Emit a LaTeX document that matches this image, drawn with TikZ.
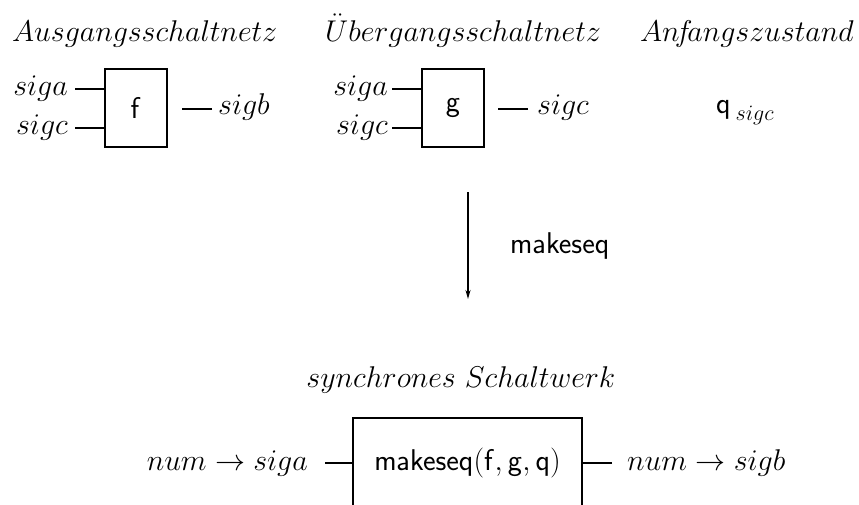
\RequirePackage{fix-cm}
\documentclass[tikz,border=0pt]{standalone}
\usetikzlibrary{arrows.meta}

\begin{document}
\begin{tikzpicture}[x=1pt,y=-1pt,
  every node/.style={font=\fontsize{30}{36}\selectfont, inner sep=0pt},
  blk/.style={draw, line width=2.2pt},
  wire/.style={line width=2.2pt},
  lbl/.style={},
]
\clip (0,0) rectangle (859,504);

% column headings
\node[anchor=base west] (hA) at (12,41) {$Ausgangsschaltnetz$};
\node[anchor=base west] (hU) at (325,41) {$\ddot{U}bergangsschaltnetz$};
\node[anchor=base west] (hI) at (640,41) {$An\!f\!angszustand$};

% output function f
\node[blk, minimum width=62pt, minimum height=78pt] (f) at (136,108) {$\mathsf{f}$};
\node[lbl, anchor=base east] (fa) at (68,95) {$siga$};
\node[lbl, anchor=base east] (fc) at (68,134) {$sigc$};
\node[lbl, anchor=base west] (fb) at (218,114) {$sigb$};
\coordinate (fa0) at (75,89);
\coordinate (fc0) at (75,128);
\coordinate (fb0) at (212,109);
\draw[wire] (fa0) -- (fa0 -| f.west);
\draw[wire] (fc0) -- (fc0 -| f.west);
\draw[wire] (fb0) -- (fb0 -| 182,0);

% transition function g
\node[blk, minimum width=62pt, minimum height=78pt] (g) at (453,108) {$\mathsf{g}$};
\node[lbl, anchor=base east] (ga) at (388,95) {$siga$};
\node[lbl, anchor=base east] (gc) at (388,134) {$sigc$};
\node[lbl, anchor=base west] (gs) at (537,114) {$sigc$};
\coordinate (ga0) at (392,89);
\coordinate (gc0) at (392,128);
\coordinate (gs0) at (528,109);
\draw[wire] (ga0) -- (ga0 -| g.west);
\draw[wire] (gc0) -- (gc0 -| g.west);
\draw[wire] (gs0) -- (gs0 -| 498,0);

% initial state
\node[anchor=base west] (q) at (716,113)
  {$\mathsf{q}$\,\raisebox{-7pt}{\fontsize{22}{26}\selectfont$sigc$}};

% transformation arrow
\coordinate (arrTop) at (468,192);
\coordinate (arrBot) at (468,299);
\draw[line width=2pt, -{Stealth[length=9pt,width=5pt]}] (arrTop) -- (arrBot);
\node[anchor=base west] (mk) at (510,253) {$\mathsf{makeseq}$};

% resulting synchronous circuit
\node[anchor=base] (hS) at (461,387) {$synchrones\ Schaltwerk$};
\node[blk, minimum width=229pt, minimum height=90pt] (M) at (467.5,463)
  {$\mathsf{makeseq}(\mathsf{f},\mathsf{g},\mathsf{q})$};
\node[lbl, anchor=base east] (Min) at (308,470) {$num \rightarrow siga$};
\node[lbl, anchor=base west] (Mout) at (627,470) {$num \rightarrow sigb$};
\coordinate (Min0) at (325,463);
\coordinate (Mout0) at (612,463);
\draw[wire] (Min0) -- (M.west |- Min0);
\draw[wire] (Mout0) -- (M.east |- Mout0);
\end{tikzpicture}
\end{document}
